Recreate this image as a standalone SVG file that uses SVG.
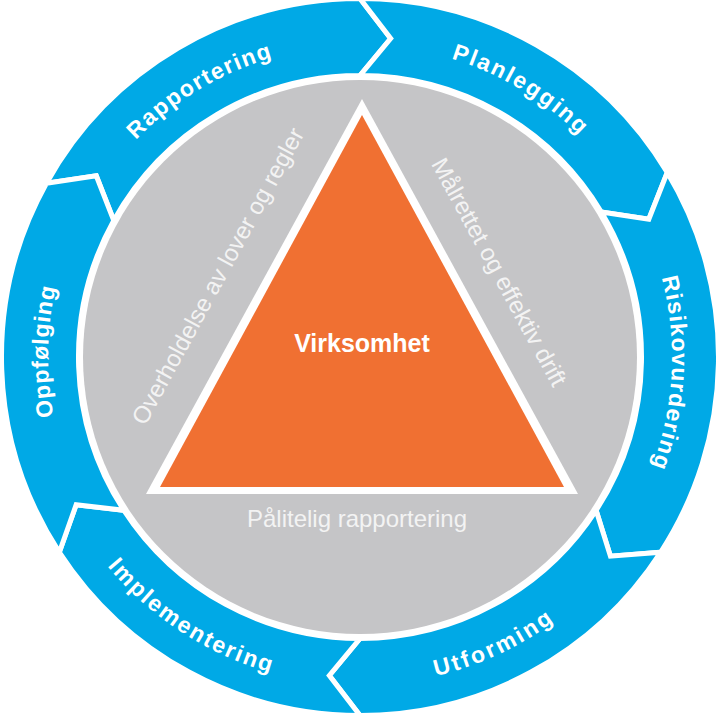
<svg xmlns="http://www.w3.org/2000/svg" width="717" height="718" viewBox="0 0 717 718">
  <style>
    .seg { fill: #00a9e6; stroke: #ffffff; stroke-width: 5; stroke-linejoin: miter; }
    .ring-label { font-family: "Liberation Sans", Arial, sans-serif; font-weight: bold; font-size: 23px; fill: #ffffff; }
    .side-label { font-family: "Liberation Sans", Arial, sans-serif; font-size: 24px; fill: #f3f3f3; }
    .core-label { font-family: "Liberation Sans", Arial, sans-serif; font-weight: bold; font-size: 25px; fill: #ffffff; }
  </style>
  <defs>
    <path id="arc-rapportering" d="M 65.00,255.42 A 312 312 0 0 1 408.81,48.84"/>
    <path id="arc-planlegging" d="M 311.19,48.84 A 312 312 0 0 1 655.00,255.42"/>
    <path id="arc-risiko" d="M 609.18,169.23 A 312 312 0 0 1 588.18,569.78"/>
    <path id="arc-oppfolging" d="M 117.53,553.35 A 312 312 0 0 1 124.53,152.31"/>
    <path id="arc-utforming" d="M 275.11,673.82 A 328 328 0 0 0 657.27,495.62"/>
    <path id="arc-implementering" d="M 46.33,452.90 A 328 328 0 0 0 399.97,682.56"/>
  </defs>
  <rect x="0" y="0" width="717" height="718" fill="#ffffff"/>

  <g id="connectors"></g>

  <g id="inner-circle">
    <circle cx="360" cy="357" r="277" fill="#c5c5c7"/>
  </g>

  <g id="seg-rapportering">
    <path class="seg" d="M 46.45,183.20 A 358.5 358.5 0 0 1 360,-1.5 L 390.67,38.47 L 360,75.5 A 281.5 281.5 0 0 0 113.79,220.53 L 96.28,175.75 Z"/>
    <text class="ring-label" letter-spacing="1.5"><textPath href="#arc-rapportering" startOffset="50%" text-anchor="middle">Rapportering</textPath></text>
  </g>
  <g id="seg-planlegging">
    <path class="seg" d="M 360,-1.5 A 358.5 358.5 0 0 1 667.30,172.36 L 648.83,219.24 L 601.29,212.02 A 281.5 281.5 0 0 0 360,75.5 L 390.67,38.47 Z"/>
    <text class="ring-label" letter-spacing="2"><textPath href="#arc-planlegging" startOffset="50%" text-anchor="middle">Planlegging</textPath></text>
  </g>
  <g id="seg-risikovurdering">
    <path class="seg" d="M 667.30,172.36 A 358.5 358.5 0 0 1 660.66,552.25 L 610.44,556.20 L 596.09,510.32 A 281.5 281.5 0 0 0 601.29,212.02 L 648.83,219.24 Z"/>
    <text class="ring-label" letter-spacing="1.2"><textPath href="#arc-risiko" startOffset="50%" text-anchor="middle">Risikovurdering</textPath></text>
  </g>
  <g id="seg-utforming">
    <path class="seg" d="M 660.66,552.25 A 358.5 358.5 0 0 1 360,715.5 L 329.33,675.53 L 360,638.5 A 281.5 281.5 0 0 0 596.09,510.32 L 610.44,556.20 Z"/>
    <text class="ring-label" letter-spacing="2.6"><textPath href="#arc-utforming" startOffset="50%" text-anchor="middle">Utforming</textPath></text>
  </g>
  <g id="seg-implementering">
    <path class="seg" d="M 360,715.5 A 358.5 358.5 0 0 1 59.34,552.25 L 76.16,504.76 L 123.91,510.32 A 281.5 281.5 0 0 0 360,638.5 L 329.33,675.53 Z"/>
    <text class="ring-label" letter-spacing="2"><textPath href="#arc-implementering" startOffset="50%" text-anchor="middle">Implementering</textPath></text>
  </g>
  <g id="seg-oppfolging">
    <path class="seg" d="M 59.34,552.25 A 358.5 358.5 0 0 1 46.45,183.20 L 96.28,175.75 L 113.79,220.53 A 281.5 281.5 0 0 0 123.91,510.32 L 76.16,504.76 Z"/>
    <text class="ring-label" letter-spacing="0.8"><textPath href="#arc-oppfolging" startOffset="50%" text-anchor="middle">Oppfølging</textPath></text>
  </g>

  <g id="triangle-virksomhet">
    <polygon points="146,494 578,494 362,99" fill="#ffffff"/>
    <polygon points="160,487 564,487 362,115" fill="#f07032"/>
    <text class="core-label" x="362" y="352" text-anchor="middle">Virksomhet</text>
  </g>

  <g id="label-overholdelse">
    <text class="side-label" x="225" y="280" text-anchor="middle" transform="rotate(-61.4 225 280)">Overholdelse av lover og regler</text>
  </g>
  <g id="label-malrettet">
    <text class="side-label" x="492" y="276" text-anchor="middle" transform="rotate(61.4 492 276)">Målrettet og effektiv drift</text>
  </g>
  <g id="label-palitelig">
    <text class="side-label" x="357" y="527" text-anchor="middle" font-size="24.5">Pålitelig rapportering</text>
  </g>
</svg>
